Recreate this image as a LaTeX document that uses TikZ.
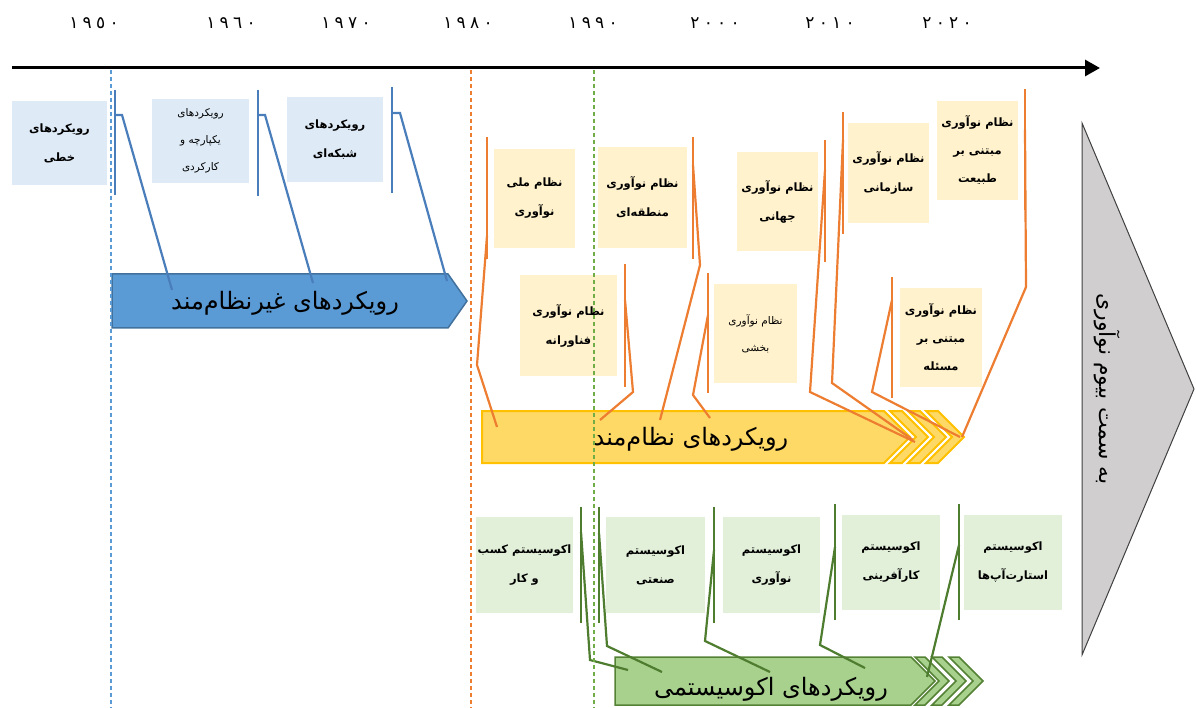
\documentclass[tikz,border=0pt]{standalone}
\usepackage{fontspec}
\newfontfamily\arabicfont[Script=Arabic]{DejaVu Sans}
\newfontfamily\yearfont[LetterSpace=25]{DejaVu Sans}
\TeXXeTstate=1
\usetikzlibrary{arrows.meta}
\definecolor{nonsysfill}{HTML}{5B9BD5}
\definecolor{nonsysline}{HTML}{41719C}
\definecolor{nonsysbox}{HTML}{DEEBF7}
\definecolor{nonsyscall}{HTML}{4A7EBB}
\definecolor{sysfill}{HTML}{FFD966}
\definecolor{sysline}{HTML}{FFC000}
\definecolor{sysbox}{HTML}{FFF2CC}
\definecolor{syscall}{HTML}{ED7D31}
\definecolor{ecofill}{HTML}{A9D18E}
\definecolor{ecoline}{HTML}{548235}
\definecolor{ecobox}{HTML}{E2F0D9}
\definecolor{ecocall}{HTML}{4E7D2F}
\definecolor{ecodash}{HTML}{70AD47}
\definecolor{biomefill}{HTML}{D0CECE}
\newcommand{\fa}[1]{\beginR#1\endR}
\begin{document}
\begin{tikzpicture}[x=1pt,y=-1pt,
  boxtext/.style={align=center,inner sep=0pt,font=\arabicfont\bfseries\fontsize{11.5}{29}\selectfont},
  nonsysbx/.style={boxtext,fill=nonsysbox},
  sysbx/.style={boxtext,fill=sysbox},
  ecobx/.style={boxtext,fill=ecobox},
  smalltext/.style={font=\arabicfont\fontsize{10.5}{27}\selectfont},
  threeline/.style={font=\arabicfont\bfseries\fontsize{11.5}{28}\selectfont},
  bigtext/.style={font=\arabicfont\fontsize{24}{28}\selectfont},
  biometext/.style={font=\arabicfont\fontsize{22}{26}\selectfont},
  yeartext/.style={font=\yearfont\fontsize{17}{20}\selectfont},
  callline/.style={line width=2.2pt},
  era/.style={line width=1.2pt,dash pattern=on 4pt off 3pt}]
\useasboundingbox (0,0) rectangle (1196,708);
\coordinate (t0) at (12,68);
\coordinate (t1) at (1100,68);
\draw[line width=3pt,-{Triangle[length=15pt,width=16pt]}] (t0) -- (t1);
\foreach \yx/\yr in {94/١٩٥٠,231/١٩٦٠,346/١٩٧٠,468/١٩٨٠,593/١٩٩٠,715/٢٠٠٠,830/٢٠١٠,947/٢٠٢٠}
  \node[yeartext] (y\yx) at (\yx,23) {\yr};

\node[nonsysbx,minimum width=95pt,minimum height=84pt] (nb1) at (59.5,143) {\fa{رویکردهای}\\\fa{خطی}};
\node[nonsysbx,smalltext,minimum width=97pt,minimum height=84pt] (nb2) at (200.5,141) {\fa{رویکردهای}\\\fa{یکپارچه و}\\\fa{کارکردی}};
\node[nonsysbx,minimum width=96pt,minimum height=85pt] (nb3) at (335,139.5) {\fa{رویکردهای}\\\fa{شبکه‌ای}};

\node[sysbx,minimum width=81pt,minimum height=99pt] (ns1) at (534.5,198.5) {\fa{نظام ملی}\\\fa{نوآوری}};
\node[sysbx,minimum width=89pt,minimum height=101pt] (ns2) at (642.5,197.5) {\fa{نظام نوآوری}\\\fa{منطقه‌ای}};
\node[sysbx,minimum width=81pt,minimum height=99pt] (ns3) at (777.5,201.5) {\fa{نظام نوآوری}\\\fa{جهانی}};
\node[sysbx,minimum width=81pt,minimum height=100pt] (ns4) at (888.5,173) {\fa{نظام نوآوری}\\\fa{سازمانی}};
\node[sysbx,threeline,minimum width=81pt,minimum height=99pt] (ns5) at (977.5,150.5) {\fa{نظام نوآوری}\\\fa{مبتنی بر}\\\fa{طبیعت}};
\node[sysbx,minimum width=97pt,minimum height=101pt] (ns6) at (568.5,325.5) {\fa{نظام نوآوری}\\\fa{فناورانه}};
\node[sysbx,smalltext,minimum width=83pt,minimum height=99pt] (ns7) at (755.5,333.5) {\fa{نظام نوآوری}\\\fa{بخشی}};
\node[sysbx,threeline,minimum width=82pt,minimum height=99pt] (ns8) at (941,337.5) {\fa{نظام نوآوری}\\\fa{مبتنی بر}\\\fa{مسئله}};

\node[ecobx,minimum width=97pt,minimum height=96pt] (ne1) at (524.5,565) {\fa{اکوسیستم کسب}\\\fa{و کار}};
\node[ecobx,minimum width=99pt,minimum height=96pt] (ne2) at (655.5,565) {\fa{اکوسیستم}\\\fa{صنعتی}};
\node[ecobx,minimum width=97pt,minimum height=96pt] (ne3) at (771.5,565) {\fa{اکوسیستم}\\\fa{نوآوری}};
\node[ecobx,minimum width=98pt,minimum height=95pt] (ne4) at (891,562.5) {\fa{اکوسیستم}\\\fa{کارآفرینی}};
\node[ecobx,minimum width=98pt,minimum height=95pt] (ne5) at (1013,562.5) {\fa{اکوسیستم}\\\fa{استارت‌آپ‌ها}};

\filldraw[fill=nonsysfill,draw=nonsysline,line width=1.5pt] (112,274) -- (448,274) -- (467,301) -- (448,328) -- (112,328) -- cycle;
\node[bigtext] (nonsys) at (285,303) {\fa{رویکردهای غیرنظام‌مند}};

\filldraw[fill=sysfill,draw=sysline,line width=2pt] (482,411) -- (884,411) -- (910,437) -- (884,463) -- (482,463) -- cycle;
\foreach \c in {890,908,926}
  \filldraw[fill=sysfill,draw=sysline,line width=2pt] (\c,411) -- ++(12,0) -- ++(26,26) -- ++(-26,26) -- ++(-12,0) -- ++(26,-26) -- cycle;
\node[bigtext] (sys) at (691,439) {\fa{رویکردهای نظام‌مند}};

\filldraw[fill=ecofill,draw=ecoline,line width=1.5pt] (615,657) -- (911,657) -- (935,681) -- (911,705) -- (615,705) -- cycle;
\foreach \c in {915,932,949}
  \filldraw[fill=ecofill,draw=ecoline,line width=1.5pt] (\c,657) -- ++(10,0) -- ++(24,24) -- ++(-24,24) -- ++(-10,0) -- ++(24,-24) -- cycle;
\node[bigtext] (eco) at (771,689) {\fa{رویکردهای اکوسیستمی}};

\filldraw[fill=biomefill,draw=black!75,line width=1pt] (1082,123) -- (1194,389) -- (1082,655) -- cycle;
\node[biometext,rotate=-90] (biome) at (1107,389) {\fa{به سمت بیوم نوآوری}};

\foreach \bx/\bt/\bb/\sy/\mx/\my/\ex/\ey in {115/90/195/115/122/115/172/290,258/90/196/115/265/115/313/283,392/87/193/113/400/113/447/281}
  {\draw[callline,nonsyscall] (\bx,\bt) -- (\bx,\bb);
   \draw[callline,nonsyscall] (\bx,\sy) -- (\mx,\my) -- (\ex,\ey);}
\foreach \bx/\bt/\bb/\sy/\mx/\my/\ex/\ey in {487/137/259/236/477/365/497/427,625/264/387/300/633/392/600/420,693/137/259/165/700/265/660/420,708/273/393/315/693/395/710/418,825/140/262/170/810/392/915/442,843/112/234/140/832/383/913/440,892/277/398/300/872/392/960/437,1025/89/210/130/1026/287/962/437}
  {\draw[callline,syscall] (\bx,\bt) -- (\bx,\bb);
   \draw[callline,syscall] (\bx,\sy) -- (\mx,\my) -- (\ex,\ey);}
\foreach \bx/\bt/\bb/\sy/\mx/\my/\ex/\ey in {581/507/623/532/590/660/628/670,599/507/623/533/607/646/662/672,714/507/623/550/705/641/770/672,835/504/620/547/820/645/865/668,959/504/620/545/943/611/927/677}
  {\draw[callline,ecocall] (\bx,\bt) -- (\bx,\bb);
   \draw[callline,ecocall] (\bx,\sy) -- (\mx,\my) -- (\ex,\ey);}

\draw[era,nonsysfill] (111,70) -- (111,708);
\draw[era,syscall] (471,70) -- (471,708);
\draw[era,ecodash] (594,70) -- (594,708);
\end{tikzpicture}
\end{document}
